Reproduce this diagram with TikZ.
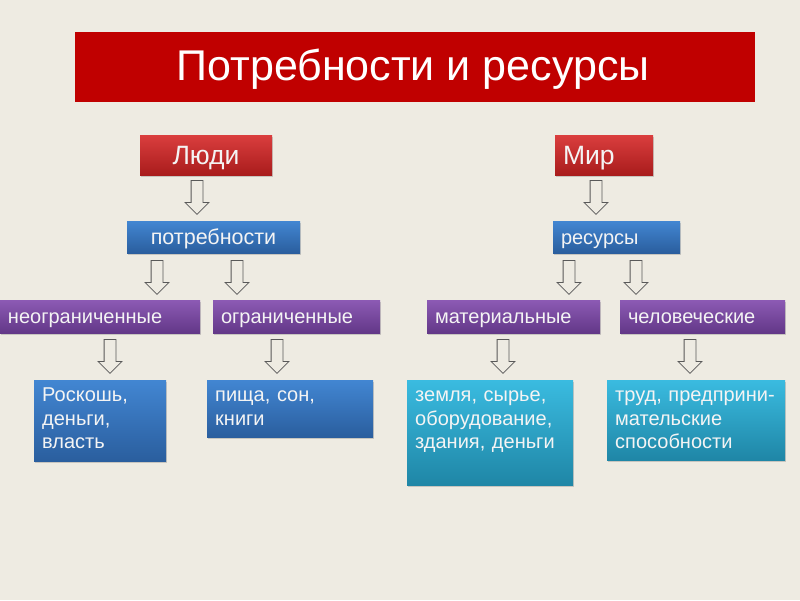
\documentclass[tikz,border=0pt]{standalone}
\usepackage{fontspec}
\setmainfont{Liberation Sans}
\usetikzlibrary{shapes.arrows,shadows}
\definecolor{bgc}{HTML}{EEEBE2}
\definecolor{titred}{HTML}{C00000}
\definecolor{redT}{HTML}{DA3E3E}
\definecolor{redB}{HTML}{A91C1C}
\definecolor{bluT}{HTML}{4286D2}
\definecolor{bluB}{HTML}{2A5E9E}
\definecolor{purT}{HTML}{8C5AB4}
\definecolor{purB}{HTML}{633888}
\definecolor{cyaT}{HTML}{3ABBE0}
\definecolor{cyaB}{HTML}{1F86A6}
\definecolor{txt}{HTML}{F4F4F4}
\tikzset{
  box/.style={rectangle, text=txt, inner xsep=8pt, inner ysep=0pt, align=left,
    drop shadow={opacity=0.35, shadow xshift=1pt, shadow yshift=-2pt}},
  redbox/.style={box, top color=redT, bottom color=redB, font=\fontsize{26.5}{30}\selectfont,
    text height=21pt, text depth=3pt},
  bluebox/.style={box, top color=bluT, bottom color=bluB, font=\fontsize{20}{24}\selectfont,
    text height=16.5pt, text depth=2pt},
  purbox/.style={box, top color=purT, bottom color=purB, font=\fontsize{20}{24}\selectfont,
    text height=16.5pt, text depth=2pt},
  cyabox/.style={box, top color=cyaT, bottom color=cyaB, font=\fontsize{20}{23.5}\selectfont},
  leafblue/.style={box, top color=bluT, bottom color=bluB, font=\fontsize{20}{23.5}\selectfont},
  downarrow/.style={single arrow, draw=black!65, line width=0.8pt, fill=none,
    shape border rotate=270, minimum height=34pt, inner sep=5.5pt,
    single arrow head extend=6pt, single arrow tip angle=90, anchor=north}
}
\begin{document}
\begin{tikzpicture}[x=1pt,y=-1pt]
\fill[bgc] (0,0) rectangle (800,600);
\useasboundingbox (0,0) rectangle (800,600);

\fill[titred] (75,32) rectangle (755,102);
\node[text=white, font=\fontsize{43}{48}\selectfont, inner sep=0pt, text height=31pt, text depth=0pt, anchor=north] (title) at (413,49) {Потребности и ресурсы};

% level 1
\node[redbox, align=center, minimum width=132pt, minimum height=40pt] (ludi) at (206,155) {Люди};
\node[redbox, text width=82pt, minimum height=40pt] (mir) at (604,155) {Мир};

% level 2
\node[bluebox, align=center, minimum width=173pt, minimum height=32pt, font=\fontsize{21.5}{24}\selectfont] (potr) at (213.5,237) {потребности};
\node[bluebox, text width=111pt, minimum height=32pt] (res) at (616.5,237) {ресурсы};

% level 3
\node[purbox, text width=184pt, minimum height=33pt] (neogr) at (100,316.5) {неограниченные};
\node[purbox, text width=151pt, minimum height=33pt] (ogr) at (296.5,316.5) {ограниченные};
\node[purbox, text width=157pt, minimum height=33pt] (mat) at (513.5,316.5) {материальные};
\node[purbox, text width=149pt, minimum height=33pt] (chel) at (702.5,316.5) {человеческие};

% level 4
\node[leafblue, anchor=north west, text width=116pt, inner ysep=8pt, text height=13.5pt, text depth=51.5pt] (lux) at (34,380) {Роскошь,\\деньги,\\власть};
\node[leafblue, anchor=north west, text width=150pt, inner ysep=8pt, text height=13.5pt, text depth=27.5pt] (food) at (207,380) {пища, сон,\\книги};
\node[cyabox, anchor=north west, text width=150pt, inner ysep=8pt, text height=13.5pt, text depth=75.5pt] (land) at (407,380) {земля, сырье,\\оборудование,\\здания, деньги};
\node[cyabox, anchor=north west, text width=162pt, inner ysep=8pt, text height=13.5pt, text depth=50.5pt] (labour) at (607,380) {труд, предприни-\\мательские\\способности};

% arrows
\node[downarrow] (a1) at (197,180) {};
\node[downarrow] (a2) at (596,180) {};
\node[downarrow] (a3) at (157,260) {};
\node[downarrow] (a4) at (237,260) {};
\node[downarrow] (a5) at (569,260) {};
\node[downarrow] (a6) at (636,260) {};
\node[downarrow] (a7) at (110,339) {};
\node[downarrow] (a8) at (277,339) {};
\node[downarrow] (a9) at (503,339) {};
\node[downarrow] (a10) at (690,339) {};
\end{tikzpicture}
\end{document}
